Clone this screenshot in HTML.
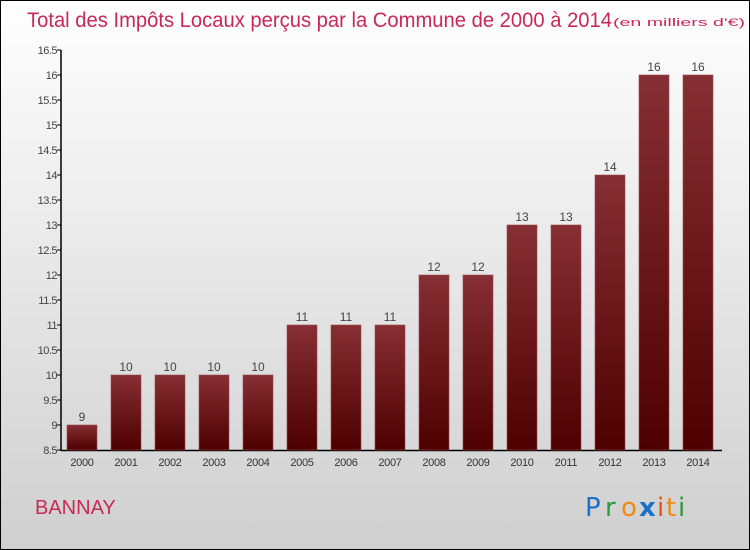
<!DOCTYPE html>
<html><head><meta charset="utf-8"><style>
html,body{margin:0;padding:0;}
body{width:750px;height:550px;overflow:hidden;}
#frame{position:absolute;left:0;top:0;width:748px;height:548px;border:1px solid #000;background:linear-gradient(#ffffff,#cfcfcf);font-family:"Liberation Sans",sans-serif;}
</style></head><body>
<div id="frame">
<svg width="750" height="550" style="position:absolute;left:-1px;top:-1px">
<defs><linearGradient id="bg" x1="0" y1="0" x2="0" y2="1"><stop offset="0" stop-color="#862f34"/><stop offset="1" stop-color="#4e0000"/></linearGradient></defs>
<text x="27" y="27" font-size="21" fill="#c8285a" textLength="585" lengthAdjust="spacingAndGlyphs">Total des Impôts Locaux perçus par la Commune de 2000 à 2014</text>
<text x="613" y="26" font-size="11" fill="#c8285a" textLength="132" lengthAdjust="spacingAndGlyphs">(en milliers d'€)</text>
<g id="axes"></g><g id="bars"></g>
<text x="35" y="514" font-size="20" fill="#c8285a">BANNAY</text>
<g font-size="26" font-family="DejaVu Sans, sans-serif">
<text x="585" y="516" fill="#1a72c8">P</text><text x="605" y="516" fill="#2a9a3a">r</text><text x="621" y="516" fill="#f08a10">o</text><text x="639" y="516" fill="#1a72c8" font-weight="bold">x</text><text x="657" y="516" fill="#e85010">i</text><text x="666" y="516" fill="#f08a10">t</text><text x="678" y="516" fill="#2a9a3a">i</text>
</g>
</svg>
</div>
<script>
const years=["2000","2001","2002","2003","2004","2005","2006","2007","2008","2009","2010","2011","2012","2013","2014"];
const values=[9,10,10,10,10,11,11,11,12,12,13,13,14,16,16];
const labels=["9","10","10","10","10","11","11","11","12","12","13","13","14","16","16"];
const ticks=[8.5,9,9.5,10,10.5,11,11.5,12,12.5,13,13.5,14,14.5,15,15.5,16,16.5];
const NS="http://www.w3.org/2000/svg";
const y=v=>450-(v-8.5)*50;
const x=i=>82+i*44;
function mk(t,a,p){const e=document.createElementNS(NS,t);for(const k in a)e.setAttribute(k,a[k]);p.appendChild(e);return e;}
const ax=document.getElementById('axes'),bg=document.getElementById('bars');
const yl=mk('line',{x1:61,y1:50,x2:61,y2:451,stroke:'#000','stroke-width':1.5},ax);


const xl=mk('line',{x1:61,y1:450.5,x2:722,y2:450.5,stroke:'#000','stroke-width':1.5},ax);


ticks.forEach(t=>{
 mk('line',{x1:57,y1:y(t),x2:61,y2:y(t),stroke:'#000'},ax);
 const tx=mk('text',{x:57,y:y(t)+4,'text-anchor':'end','font-size':11,fill:'#444','letter-spacing':'-0.5'},ax);
 tx.textContent=String(t);
 
 
});
values.forEach((v,i)=>{
 const r=mk('rect',{x:x(i)-15,y:y(v),width:30,height:450-y(v),fill:'url(#bg)',stroke:'#9a4a4e','stroke-width':0.6},bg);
 
 
 const l=mk('text',{x:x(i),y:y(v)-4,'text-anchor':'middle','font-size':12,fill:'#444'},bg);
 l.textContent=labels[i];
 
 
 const xt=mk('text',{x:x(i),y:466,'text-anchor':'middle','font-size':11,fill:'#333','letter-spacing':'-0.3'},bg);
 xt.textContent=years[i];
 
 
});
</script>
</body></html>
